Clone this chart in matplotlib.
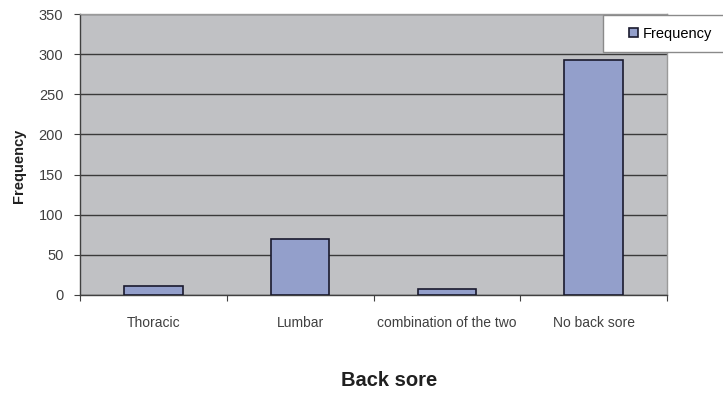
import matplotlib.pyplot as plt
from matplotlib.patches import Rectangle
import numpy as np

plt.rcParams["font.family"] = ["Liberation Sans", "DejaVu Sans"]

categories = ["Thoracic", "Lumbar", "combination of the two", "No back sore"]
frequency = [11, 70, 7, 293]
y_ticks = [0, 50, 100, 150, 200, 250, 300, 350]

fig = plt.figure(figsize=(7.23, 3.95), dpi=100)
ax = fig.add_axes([80 / 723, 100 / 395, 587 / 723, 281 / 395])
ax.set_facecolor("#c0c1c4")

x = np.arange(len(categories))
bars = ax.bar(x, frequency, width=0.4, color="#939fcb", edgecolor="#1a1a2e",
              linewidth=1.2, zorder=3, label="Frequency")

ax.set_xlim(-0.5, len(categories) - 0.5)
ax.set_ylim(0, 350)
ax.set_yticks(y_ticks)
ax.yaxis.grid(True, color="#3a3a3a", linewidth=1.0, zorder=1)
ax.set_axisbelow(True)

# category ticks sit on the boundaries between bars
ax.set_xticks(np.arange(len(categories) + 1) - 0.5)
ax.set_xticklabels([])
ax.set_xticks(x, minor=True)
ax.set_xticklabels(categories, minor=True)
ax.tick_params(axis="x", which="major", length=4, color="#404040", direction="out")
ax.tick_params(axis="x", which="minor", length=0, pad=15, labelsize=10,
               labelcolor="#404040")
ax.tick_params(axis="y", length=4, color="#404040", pad=8, labelsize=10.5,
               labelcolor="#404040")

for side in ["top", "right"]:
    ax.spines[side].set_color("#9a9a9a")
    ax.spines[side].set_linewidth(1.0)
for side in ["left", "bottom"]:
    ax.spines[side].set_color("#404040")
    ax.spines[side].set_linewidth(1.0)

fig.text(19 / 723, 1 - 166 / 395, "Frequency", rotation=90, ha="center", va="center",
         fontsize=10.5, fontweight="bold", color="#202020")
fig.text(389 / 723, 1 - 381 / 395, "Back sore", ha="center", va="center",
         fontsize=14.5, fontweight="bold", color="#202020")

# legend box runs past the right edge of the figure
fig.patches.append(Rectangle((603 / 723, 1 - 52 / 395), 130 / 723, 37 / 395,
                             transform=fig.transFigure, facecolor="white",
                             edgecolor="#8a8a8a", linewidth=1.0, zorder=5))
leg = fig.legend(handles=[bars], labels=["Frequency"], loc="center left",
                 bbox_to_anchor=(622 / 723, 1 - 34 / 395), frameon=False,
                 fontsize=10.5, handlelength=0.6, handleheight=0.6, handletextpad=0.3,
                 borderpad=0)
leg.set_zorder(6)

fig.savefig("out.png", dpi=100)
